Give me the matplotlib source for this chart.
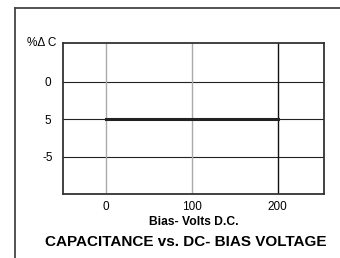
import matplotlib
matplotlib.use("Agg")
import matplotlib.pyplot as plt
from matplotlib.lines import Line2D

plt.rcParams['font.family'] = ['Liberation Sans', 'DejaVu Sans']

# data
bias_volts = [0, 200]
delta_cap = [-5, -5]
xticks = [0, 100, 200]
yticks = [0, -5, -10]
ytick_labels = ['0', '5', '-5']

W, H = 340, 258
fig = plt.figure(figsize=(W / 100, H / 100), dpi=100)
ax = fig.add_axes([63 / W, 1 - 194 / H, (324 - 63) / W, (194 - 43) / H])

ax.set_xlim(-50, 254)
ax.set_ylim(-15, 5.2)

# grid: horizontal black, vertical gray except the last
for y in yticks:
    ax.axhline(y, color='#222222', lw=0.8, zorder=1)
for x in xticks[:-1]:
    ax.axvline(x, color='#aaaaaa', lw=1.0, zorder=1)
ax.axvline(xticks[-1], color='#111111', lw=1.0, zorder=1)

ax.plot(bias_volts, delta_cap, color='#222222', lw=2.2, zorder=3)

ax.set_xticks(xticks)
ax.set_xticklabels([str(v) for v in xticks], fontsize=8.5)
ax.set_yticks(yticks)
ax.set_yticklabels(ytick_labels, fontsize=8.5, ha='center')
ax.tick_params(length=0)
ax.tick_params(axis='x', pad=5)
ax.tick_params(axis='y', pad=11)
for s in ax.spines.values():
    s.set_linewidth(1.3)
    s.set_color('#333333')

ax.set_xlabel('Bias- Volts D.C.', fontsize=8.7, fontweight='bold', labelpad=2)
fig.text(27 / W, 1 - 43 / H, '%\u0394 C', fontsize=8.5, va='center', ha='left')
fig.text(186 / W, 1 - 242 / H, 'CAPACITANCE vs. DC- BIAS VOLTAGE',
         fontsize=11, fontweight='bold', ha='center', va='center')

# outer frame (left and top edges)
fig.add_artist(Line2D([15 / W, 15 / W], [0, 1 - 8 / H], color='#444444', lw=1.3))
fig.add_artist(Line2D([15 / W, 1], [1 - 8 / H, 1 - 8 / H], color='#444444', lw=1.3))

fig.savefig('out.png', dpi=100)
